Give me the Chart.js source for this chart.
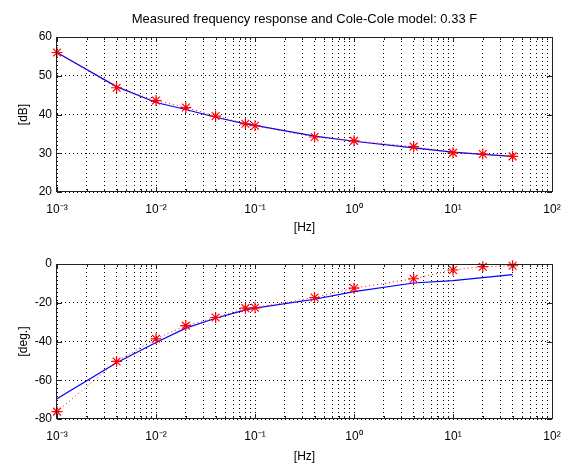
<!DOCTYPE html>
<html>
<head>
<meta charset="utf-8">
<script src="https://cdn.jsdelivr.net/npm/chart.js@4/dist/chart.umd.min.js"></script>
<style>
  html, body { margin: 0; padding: 0; background: #fff; }
  #wrap { position: relative; width: 564px; height: 464px; overflow: hidden; }
  #magChart { position: absolute; left: 0; top: 0; }
  #phaseChart { position: absolute; left: 0; top: 238px; }
</style>
</head>
<body>
<div id="wrap">
  <canvas id="magChart" width="564" height="238"></canvas>
  <canvas id="phaseChart" width="564" height="226"></canvas>
</div>
<script>
// measured points and Cole-Cole model, same frequencies
const freq = [0.001, 0.004, 0.01, 0.02, 0.04, 0.08, 0.1, 0.4, 1, 4, 10, 20, 40];
const magMeasured = [56.0, 46.9, 43.6, 41.8, 39.6, 37.6, 37.1, 34.2, 33.2, 31.7, 30.1, 29.8, 29.2];
const magModel = [56.0, 47.2, 43.1, 41.3, 39.3, 37.6, 37.2, 34.4, 33.1, 31.4, 30.3, 29.7, 29.2];
const phaseMeasured = [-76.2, -50.3, -38.6, -31.8, -27.6, -22.8, -22.6, -17.3, -12.5, -7.6, -3.1, -1.4, -0.9];
const phaseModel = [-69.5, -51.0, -40.5, -33.1, -28.0, -23.7, -22.8, -18.2, -14.3, -9.8, -8.6, -7.0, -5.5];

const freqTicks = [1e-3, 1e-2, 1e-1, 1, 10, 100];
const freqTickLabels = ['10\u207B\u00B3', '10\u207B\u00B2', '10\u207B\u00B9', '10\u2070', '10\u00B9', '10\u00B2'];
const magTicks = [20, 30, 40, 50, 60];
const phaseTicks = [-80, -60, -40, -20, 0];

const TITLE = 'Measured frequency response and Cole-Cole model: 0.33 F';

Chart.defaults.font.family = "'Liberation Sans', Arial, sans-serif";
Chart.defaults.font.size = 12;
Chart.defaults.color = '#000';

const toPoints = (ys) => freq.map((f, i) => ({ x: f, y: ys[i] }));

// decade grid: 1..9 x 10^n between the first and last labelled tick
const logGrid = [];
for (let i = 0; i < freqTicks.length - 1; i++) {
    for (let m = 1; m < 10; m++) logGrid.push(m * freqTicks[i]);
}
logGrid.push(freqTicks[freqTicks.length - 1]);

const isMajor = (v) => freqTicks.some(t => Math.abs(t - v) / t < 1e-6);

// MATLAB-like box with inward ticks
const boxPlugin = {
    id: 'box',
    afterDraw(chart) {
        const { ctx, chartArea: a, scales } = chart;
        ctx.save();
        ctx.strokeStyle = '#222';
        ctx.lineWidth = 1;
        ctx.setLineDash([]);
        ctx.beginPath();
        scales.x.ticks.forEach(t => {
            const px = Math.round(scales.x.getPixelForValue(t.value)) + 0.5;
            const len = isMajor(t.value) ? 5 : 3;
            ctx.moveTo(px, a.bottom); ctx.lineTo(px, a.bottom - len);
            ctx.moveTo(px, a.top); ctx.lineTo(px, a.top + len);
        });
        scales.y.ticks.forEach(t => {
            const py = Math.round(scales.y.getPixelForValue(t.value)) + 0.5;
            ctx.moveTo(a.left, py); ctx.lineTo(a.left + 5, py);
            ctx.moveTo(a.right, py); ctx.lineTo(a.right - 5, py);
        });
        ctx.stroke();
        ctx.strokeRect(Math.round(a.left) - 0.5, Math.round(a.top) + 0.5,
            Math.round(a.right - a.left) + 1, Math.round(a.bottom - a.top) - 1);
        ctx.restore();
    }
};

function makeChart(id, measured, model, yTicks, yTitle, opts) {
    return new Chart(document.getElementById(id), {
        type: 'line',
        data: {
            datasets: [
                {
                    label: 'measured',
                    data: toPoints(measured),
                    borderColor: '#ff0000',
                    borderWidth: 1,
                    borderDash: [1, 3],
                    pointStyle: 'star',
                    pointRadius: 5.5,
                    pointBorderWidth: 1.2,
                    pointBorderColor: '#ff0000',
                    pointBackgroundColor: '#ff0000',
                    clip: false
                },
                {
                    label: 'Cole-Cole model',
                    data: toPoints(model),
                    borderColor: '#0000ff',
                    borderWidth: 1.2,
                    pointRadius: 0
                }
            ]
        },
        options: {
            responsive: false,
            animation: false,
            events: [],
            layout: { padding: { left: 0, right: 12, top: opts.padTop, bottom: 0 } },
            plugins: {
                legend: { display: false },
                tooltip: { enabled: false },
                title: opts.title ? {
                    display: true,
                    text: opts.title,
                    fullSize: false,
                    color: '#000',
                    font: { size: 13, weight: 'normal' },
                    padding: { top: 12, bottom: 9.4 }
                } : { display: false }
            },
            scales: {
                x: {
                    type: 'logarithmic',
                    min: freqTicks[0],
                    max: freqTicks[freqTicks.length - 1],
                    afterBuildTicks: (scale) => {
                        scale.ticks = logGrid.map(v => ({ value: v, major: isMajor(v) }));
                    },
                    afterFit: (scale) => {
                        scale.height = opts.xHeight;
                        scale.paddingLeft = 0;
                        scale.paddingRight = 0;
                    },
                    ticks: {
                        autoSkip: false,
                        maxRotation: 0,
                        padding: 10,
                        callback: (v) => {
                            const i = freqTicks.findIndex(t => Math.abs(t - v) / t < 1e-6);
                            return i >= 0 ? freqTickLabels[i] : '';
                        }
                    },
                    grid: { color: '#000', lineWidth: 1, drawTicks: false },
                    border: { display: false, dash: [1, 3] },
                    title: { display: true, text: '[Hz]', padding: { top: 0, bottom: opts.hzPad } }
                },
                y: {
                    min: yTicks[0],
                    max: yTicks[yTicks.length - 1],
                    afterBuildTicks: (scale) => {
                        scale.ticks = yTicks.map(v => ({ value: v }));
                    },
                    afterFit: (scale) => {
                        scale.width = 57;
                        scale.paddingTop = 0;
                        scale.paddingBottom = 0;
                    },
                    ticks: { padding: 5 },
                    grid: { color: '#000', lineWidth: 1, drawTicks: false },
                    border: { display: false, dash: [1, 3] },
                    title: { display: true, text: yTitle, padding: { top: 16, bottom: 0 } }
                }
            }
        },
        plugins: [boxPlugin]
    });
}

makeChart('magChart', magMeasured, magModel, magTicks, '[dB]',
    { title: TITLE, padTop: 0, xHeight: 46, hzPad: 2.8 });
makeChart('phaseChart', phaseMeasured, phaseModel, phaseTicks, '[deg.]',
    { title: null, padTop: 26, xHeight: 45, hzPad: 0 });
</script>
</body>
</html>
